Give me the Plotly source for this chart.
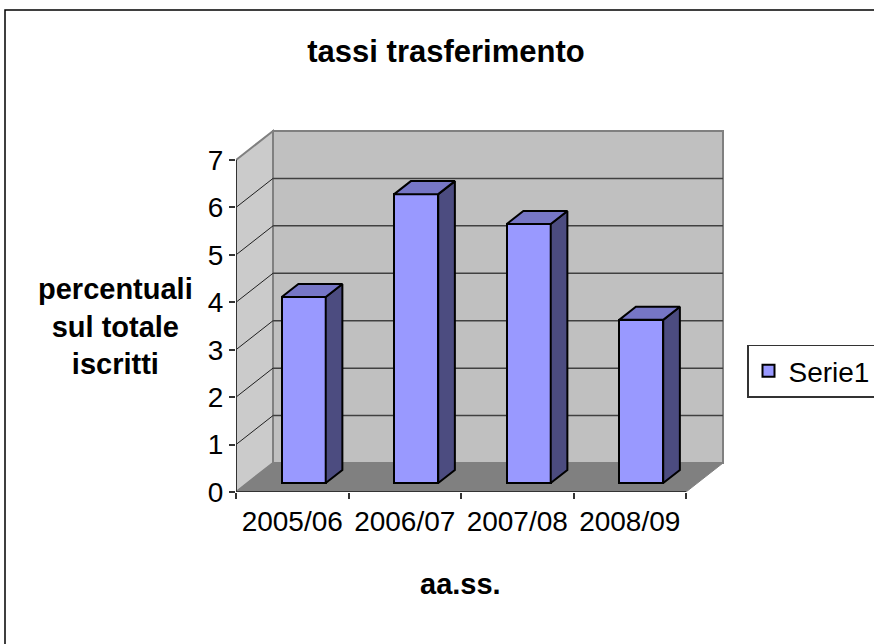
import plotly.graph_objects as go

# ---------------- data ----------------
categories = ["2005/06", "2006/07", "2007/08", "2008/09"]
values = [3.92, 6.09, 5.46, 3.44]
series_name = "Serie1"
y_ticks = [0, 1, 2, 3, 4, 5, 6, 7]
chart_title = "tassi trasferimento"
x_title = "aa.ss."
y_title_lines = ["percentuali", "sul totale", "iscritti"]

# ---------------- geometry (pseudo-3D projection) ----------------
W, H = 874, 644
PX_X = 112.5          # pixels per category
PX_Y = 47.43          # pixels per value unit
DX = 37 / PX_X        # depth offset in x (category units)
DY = 29 / PX_Y        # depth offset in y (value units)
F0, F1 = 0.31, 0.76   # bar front / back depth fraction
BW = 44 / PX_X        # bar width (category units)
YMAX = y_ticks[-1]
NC = len(categories)

L, B = 236, 152
plot_w, plot_h = 490, 365
R = W - L - plot_w
T = H - B - plot_h
x_range = plot_w / PX_X
y_range = plot_h / PX_Y


def pxp(xpix):
    return (xpix - L) / plot_w


def pyp(ypix):
    return (H - B - ypix) / plot_h


FONT = "Liberation Sans, Arial, sans-serif"
FRONT = "#9999ff"
TOP = "#7676c6"
SIDE = "#4c4c80"

fig = go.Figure()

# front faces of bars
base = F0 * DY
centers = [i + 0.5 + F0 * DX for i in range(NC)]
fig.add_trace(go.Bar(
    x=centers, y=values, base=base, width=BW, name=series_name,
    marker=dict(color=FRONT, line=dict(color="black", width=2)),
    hoverinfo="skip", showlegend=True,
))

ddx = (F1 - F0) * DX
ddy = (F1 - F0) * DY
for c, v in zip(centers, values):
    xl, xr = c - BW / 2, c + BW / 2
    top = base + v
    # side face
    fig.add_trace(go.Scatter(
        x=[xr, xr, xr + ddx, xr + ddx, xr],
        y=[base, top, top + ddy, base + ddy, base],
        mode="lines", fill="toself", fillcolor=SIDE,
        line=dict(color="black", width=2), hoverinfo="skip", showlegend=False))
    # top face
    fig.add_trace(go.Scatter(
        x=[xl, xr, xr + ddx, xl + ddx, xl],
        y=[top, top, top + ddy, top + ddy, top],
        mode="lines", fill="toself", fillcolor=TOP,
        line=dict(color="black", width=2), hoverinfo="skip", showlegend=False))

shapes = []
# back wall
shapes.append(dict(type="rect", xref="x", yref="y", x0=DX, y0=DY, x1=NC + DX, y1=YMAX + DY,
                   fillcolor="#c0c0c0", line=dict(color="#808080", width=2), layer="below"))
# left wall
shapes.append(dict(type="path", xref="x", yref="y",
                   path=f"M0,0 L0,{YMAX} L{DX},{YMAX + DY} L{DX},{DY} Z",
                   fillcolor="#cbcbcb", line=dict(color="#808080", width=2), layer="below"))
# floor
shapes.append(dict(type="path", xref="x", yref="y",
                   path=f"M0,0 L{NC},0 L{NC + DX},{DY} L{DX},{DY} Z",
                   fillcolor="#808080", line=dict(color="#808080", width=1), layer="below"))
# gridlines
for k in y_ticks[1:-1]:
    shapes.append(dict(type="line", xref="x", yref="y", x0=DX, y0=k + DY, x1=NC + DX, y1=k + DY,
                       line=dict(color="#404040", width=1.5), layer="below"))
    shapes.append(dict(type="line", xref="x", yref="y", x0=0, y0=k, x1=DX, y1=k + DY,
                       line=dict(color="#202020", width=1), layer="below"))
# axis lines
shapes.append(dict(type="line", xref="x", yref="y", x0=0, y0=0, x1=0, y1=YMAX,
                   line=dict(color="#333333", width=2)))
shapes.append(dict(type="line", xref="x", yref="y", x0=0, y0=0, x1=NC, y1=0,
                   line=dict(color="#333333", width=2)))
# outer chart border
shapes.append(dict(type="rect", xref="paper", yref="paper",
                   x0=pxp(5), y0=pyp(10), x1=pxp(W + 20), y1=pyp(H + 20),
                   line=dict(color="black", width=1.5), fillcolor="rgba(0,0,0,0)"))

annotations = [
    dict(text="<br>".join(f"<b>{s}</b>" for s in y_title_lines),
         xref="paper", yref="paper", x=pxp(115), y=pyp(326),
         xanchor="center", yanchor="middle", showarrow=False, align="center",
         font=dict(family=FONT, size=29, color="black")),
    dict(text=f"<b>{x_title}</b>", xref="paper", yref="paper", x=pxp(460), y=pyp(584),
         xanchor="center", yanchor="middle", showarrow=False,
         font=dict(family=FONT, size=29, color="black")),
]

fig.update_layout(
    width=W, height=H,
    margin=dict(l=L, r=R, t=T, b=B, autoexpand=False),
    paper_bgcolor="white", plot_bgcolor="white",
    title=dict(text=f"<b>{chart_title}</b>", x=446 / W, y=1 - 51 / H,
               xanchor="center", yanchor="middle",
               font=dict(family=FONT, size=31, color="black")),
    xaxis=dict(range=[0, x_range], tickvals=[i + 0.5 for i in range(NC)], ticktext=categories,
               ticks="", showgrid=False, zeroline=False, showline=False,
               ticklabelstandoff=10,
               tickfont=dict(family=FONT, size=28, color="black"),
               minor=dict(tickmode="linear", tick0=0, dtick=1, ticks="outside", ticklen=6,
                          tickwidth=1.5, tickcolor="#333333", showgrid=False),
               fixedrange=True),
    yaxis=dict(range=[0, y_range], tickvals=y_ticks, ticks="outside", ticklen=6,
               tickwidth=1.5, tickcolor="#333333", showgrid=False, zeroline=False,
               showline=False, tickfont=dict(family=FONT, size=28, color="black"),
               fixedrange=True),
    shapes=shapes,
    annotations=annotations,
    legend=dict(x=pxp(747), y=pyp(371), xanchor="left", yanchor="middle",
                bordercolor="#333333", borderwidth=1.5, bgcolor="white",
                entrywidth=160, entrywidthmode="pixels",
                font=dict(family=FONT, size=28, color="black")),
    showlegend=True,
    bargap=0,
)

fig.write_html("out.html")
